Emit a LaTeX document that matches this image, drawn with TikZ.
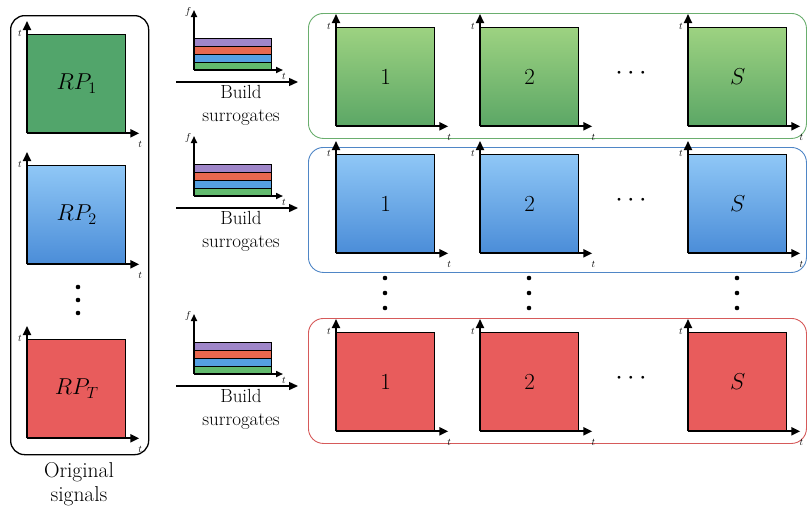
\RequirePackage{fix-cm}
\documentclass[tikz,border=0pt]{standalone}
\usepackage{fontspec}
\usetikzlibrary{arrows.meta}
\definecolor{gTop}{HTML}{9DD281}
\definecolor{gBot}{HTML}{5CA766}
\definecolor{bTop}{HTML}{8FC7F6}
\definecolor{bBot}{HTML}{4B8DD8}
\definecolor{rFill}{HTML}{E85C5C}
\definecolor{rpGreen}{HTML}{52A56B}
\definecolor{gLine}{HTML}{6AAE6E}
\definecolor{bLine}{HTML}{4F86C6}
\definecolor{rLine}{HTML}{D65A5A}
\definecolor{cPurple}{HTML}{9F86C9}
\definecolor{cRed}{HTML}{E8684F}
\definecolor{cBlue}{HTML}{55A0E2}
\definecolor{cGreen}{HTML}{62BA6E}
\tikzset{
  ax/.style={line width=2pt,-{Triangle[length=9pt,width=8pt]}},
  sq/.style={draw=black,line width=1.3pt,minimum width=98pt,minimum height=98pt,anchor=north west,inner sep=0pt,font=\fontsize{23}{23}\selectfont},
  gsq/.style={top color=gTop,bottom color=gBot},
  bsq/.style={top color=bTop,bottom color=bBot},
  rsq/.style={fill=rFill},
  tl/.style={font=\fontsize{10}{10}\selectfont,inner sep=0pt},
  rowbox/.style={rounded corners=15pt,line width=0.9pt,minimum width=498pt,minimum height=125pt,anchor=north west},
  dotn/.style={circle,fill=black,inner sep=0pt,minimum size=4.6pt},
  txt/.style={font=\fontsize{19}{23}\selectfont,align=center,inner sep=0pt},
  bar/.style={draw=black,line width=1pt},
  longarrow/.style={line width=1.4pt,-{Triangle[length=9pt,width=8pt]}}
}
\begin{document}
\begin{tikzpicture}[x=1pt,y=-1pt]
\useasboundingbox (0,0) rectangle (809,512);
% left box
\node[draw,rounded corners=14pt,line width=1.3pt,minimum width=138pt,minimum height=439pt,anchor=north west] (orig) at (10,15) {};
\node[txt,font=\fontsize{21.5}{24}\selectfont,anchor=north] (origlab) at (79,462) {Original\\signals};
% left squares
\node[sq,fill=rpGreen] (rp1) at (27,34) {$RP_1$};
\node[sq,bsq] (rp2) at (27,165) {$RP_2$};
\node[sq,rsq] (rpT) at (27,339) {$RP_T$};
\foreach \n in {rp1,rp2,rpT}{
  \draw[ax] (\n.south west) -- ([yshift=13pt]\n.north west);
  \draw[ax] (\n.south west) -- ([xshift=13pt]\n.south east);
  \node[tl] at ([xshift=-7pt,yshift=1pt]\n.north west) {$t$};
  \node[tl] at ([xshift=14pt,yshift=-11pt]\n.south east) {$t$};
}
\node[dotn] (ld1) at (78,287) {};
\node[dotn] (ld2) at (78,300) {};
\node[dotn] (ld3) at (78,313) {};
% row boxes
\node[rowbox,draw=gLine] (rowg) at (308,13) {};
\node[rowbox,draw=bLine] (rowb) at (308,147) {};
\node[rowbox,draw=rLine] (rowr) at (308,318) {};
% row squares
\foreach \r/\y/\sty in {g/27/gsq,b/154/bsq,r/332/rsq}{
  \foreach \c/\x/\lab in {1/336/1,2/480/2,3/688/S}{
    \node[sq,\sty] (\r\c) at (\x,\y) {$\lab$};
    \draw[ax] (\r\c.south west) -- ([yshift=13pt]\r\c.north west);
    \draw[ax] (\r\c.south west) -- ([xshift=13pt]\r\c.south east);
    \node[tl] at ([xshift=-7pt,yshift=1pt]\r\c.north west) {$t$};
    \node[tl] at ([xshift=14pt,yshift=-11pt]\r\c.south east) {$t$};
  }
  \node[font=\fontsize{27}{27}\selectfont] (\r dots) at (631,\y+46) {$\cdots$};
}
% vertical dots between rows
\foreach \c/\x in {1/385,2/529,3/737}{
  \node[dotn] (vd\c a) at (\x,278) {};
  \node[dotn] (vd\c b) at (\x,293) {};
  \node[dotn] (vd\c c) at (\x,308) {};
}
% spectrogram icons and build arrows
\foreach \i/\y in {1/70,2/196,3/374}{
  \fill[cGreen] (194,\y) rectangle (271,\y-8);
  \fill[cBlue] (194,\y-8) rectangle (271,\y-16);
  \fill[cRed] (194,\y-16) rectangle (271,\y-24);
  \fill[cPurple] (194,\y-24) rectangle (271,\y-32);
  \draw[bar] (194,\y) rectangle (271,\y-32);
  \draw[bar] (194,\y-8) -- (271,\y-8) (194,\y-16) -- (271,\y-16) (194,\y-24) -- (271,\y-24);
  \coordinate (o\i) at (194,\y);
  \coordinate (fy\i) at (194,\y-60);
  \coordinate (tx\i) at (283,\y);
  \draw[line width=1.6pt,-{Triangle[length=7pt,width=6pt]}] (o\i) -- (fy\i);
  \draw[line width=1.6pt,-{Triangle[length=7pt,width=6pt]}] (o\i) -- (tx\i);
  \node[tl] at (188,\y-58) {$f$};
  \node[tl] at (284,\y+6) {$t$};
  \coordinate (as\i) at (176,\y+12);
  \coordinate (ae\i) at (298,\y+12);
  \draw[longarrow] (as\i) -- (ae\i);
  \node[txt,anchor=north] (bl\i) at (241,\y+15) {Build\\surrogates};
}
\end{tikzpicture}
\end{document}
